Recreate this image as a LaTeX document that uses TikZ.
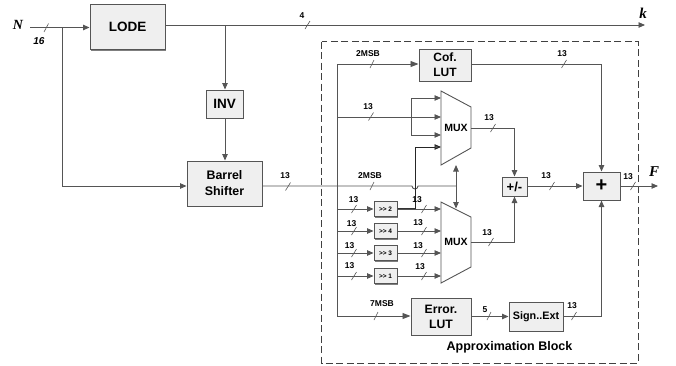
\documentclass[tikz,border=0pt]{standalone}
\usepackage{fontspec}
\setmainfont{Liberation Sans}
\newfontfamily\serifb{Liberation Serif}
\usetikzlibrary{arrows.meta,shadows}
\definecolor{ln}{HTML}{555555}
\definecolor{bx}{HTML}{EFEFEF}
\newcommand{\fs}[1]{\fontsize{#1}{#1}\selectfont\bfseries}
\newcommand{\tkat}[4]{\draw[tickmark] (#1+2.5,#2-4) -- (#1-2.5,#2+4);\node[lab] at (#3,#4) {13};}
\tikzset{
  x=1pt,y=-1pt,
  blockbox/.style={draw=ln,fill=bx,line width=1pt,align=center,inner sep=0pt,
    text=black,drop shadow={shadow xshift=1.2pt,shadow yshift=-1.2pt,fill=black,opacity=.5}},
  wire/.style={draw=ln,line width=0.9pt},
  arr/.style={wire,-{Triangle[length=6.5pt,width=5.5pt,fill=ln]}},
  bigarr/.style={wire,-{Triangle[length=8pt,width=6pt,fill=ln]}},
  tickmark/.style={draw=ln,line width=0.6pt},
  lab/.style={inner sep=0pt,font=\fs{8.5},text=black},
  dashbox/.style={draw=black!75,line width=0.7pt,dash pattern=on 7pt off 3.5pt},
  muxs/.style={draw=ln,fill=white,line width=0.9pt},
}
\begin{document}
\begin{tikzpicture}
\useasboundingbox (0,0) rectangle (676,365);
% dashed frame
\draw[dashbox] (321.5,41.5) rectangle (638,363);
\coordinate (in) at (30,27.5);
\coordinate (kend) at (645,25);
\coordinate (fend) at (658,186);
% blocks
\node[blockbox,minimum width=75pt,minimum height=45pt,font=\fs{13.5}] (lode) at (127.5,27) {LODE};
\node[blockbox,minimum width=37pt,minimum height=28pt,font=\fs{13.5}] (inv) at (224.5,104) {INV};
\node[blockbox,minimum width=75pt,minimum height=45pt,font=\fs{12.4}] (bs) at (224.5,183.5) {Barrel\\[3.5pt]Shifter};
\node[blockbox,minimum width=52pt,minimum height=32pt,font=\fs{12}] (cof) at (445,65) {Cof.\\[3pt]LUT};
\node[blockbox,minimum width=60pt,minimum height=37pt,font=\fs{12.2}] (err) at (441,316.5) {Error.\\[3pt]LUT};
\node[blockbox,minimum width=54pt,minimum height=29pt,font=\fs{10.8}] (sign) at (536,316.5) {Sign..Ext};
\node[blockbox,minimum width=25pt,minimum height=19pt,font=\fs{13}] (pm) at (514.5,186.5) {+/-};
\node[blockbox,minimum width=37pt,minimum height=28pt,font=\fs{20}] (add) at (601.5,186) {+};
\foreach \n/\t/\yy in {s2/2/209,s4/4/231,s3/3/253,s1/1/276}{
  \node[blockbox,minimum width=23pt,minimum height=15pt,font=\fs{6.5}] (\n) at (385.5,\yy) {>{}> \t};
}
% muxes
\draw[muxs] (441,91) coordinate (m1a) -- (471,107) -- (471,148) -- (441,165) coordinate (m1b) -- cycle;
\draw[muxs] (441,202) coordinate (m2a) -- (471,217) -- (471,267) -- (441,283) coordinate (m2b) -- cycle;
\node[lab,font=\fs{10.5}] (mux1) at (456,128) {MUX};
\node[lab,font=\fs{10.5}] (mux2) at (456,242) {MUX};
\coordinate (m1o) at (471,128);
\coordinate (m2o) at (471,242);
% top wires
\draw[arr] (in) -- (lode.west |- in);
\coordinate (j1) at (62,27.5);
\draw[arr] (j1) |- (bs.west |- 0,186);
\draw[arr] (lode.east |- kend) -- (kend);
\coordinate (j2) at (225,25);
\draw[arr] (j2) -- (inv.north -| j2);
\draw[arr] (inv.south -| j2) -- (bs.north -| j2);
% bus
\coordinate (bus) at (337,64);
\draw[wire] (bus) -- (337,316);
\draw[bigarr] (bus) -- (cof.west |- bus);
\draw[bigarr] (337,316) -- (err.west |- 0,316);
% barrel output with bridge
\coordinate (vj) at (456,186);
\draw[wire] (bs.east |- vj) -- (412,186) arc[start angle=180,end angle=0,radius=3] -- (vj);
\draw[arr] (vj) -- (456,165);
\draw[arr] (vj) -- (456,208.5);
% mux 1 inputs
\coordinate (b) at (411,117);
\draw[arr] (337,117) -- (441,117);
\draw[arr] (b) |- (441,98);
\draw[arr] (b) |- (441,135);
\draw[arr,draw=black!85] (415,209) |- (441,147);
\draw[wire,draw=black!80,line width=1.1pt] (s2.east) -- (415,209);
% shifters
\foreach \n/\yy in {s2/209,s4/231,s3/253,s1/276}{
  \draw[arr] (337,\yy) -- (\n.west);
  \draw[arr] (\n.east) -- (441,\yy);
}
% outputs
\draw[arr] (m1o) -| (pm.north);
\draw[arr] (m2o) -| (pm.south);
\draw[arr] (pm.east |- 0,186) -- (add.west);
\draw[arr] (cof.east |- 0,64) -| (add.north);
\draw[arr] (sign.east) -| (add.south);
\draw[arr] (err.east |- sign.east) -- (sign.west);
\draw[arr] (add.east) -- (fend);
% labels
\node[inner sep=0pt,font=\serifb\fontsize{14}{14}\selectfont\bfseries\itshape] (nN) at (18,24.5) {N};
\node[inner sep=0pt,font=\fontsize{10}{10}\selectfont\bfseries\itshape] (n16) at (39,41) {16};
\node[inner sep=0pt,font=\serifb\fontsize{15}{15}\selectfont\bfseries\itshape] (nk) at (643,13) {k};
\node[inner sep=0pt,font=\serifb\fontsize{15}{15}\selectfont\bfseries\itshape] (nF) at (654,172) {F};
\node[inner sep=0pt,font=\fs{12.5}] (appr) at (509.5,347) {Approximation Block};
% ticks and their labels
\draw[tickmark] (48.5,23.5) -- (44,32);
\draw[tickmark] (310,21) -- (305,29);
\node[lab] at (302,16) {4};
\tkat{288}{186.5}{285}{176}
\node[lab] at (370,176) {2MSB};
\draw[tickmark] (374,182) -- (370,190);
\node[lab] at (368,54) {2MSB};
\draw[tickmark] (374,60) -- (370,68);
\tkat{371}{116.5}{368}{107}
\tkat{493}{128}{489}{118}
\tkat{491}{242}{487}{233}
\tkat{552}{186}{546}{176}
\tkat{564}{64}{562}{54}
\tkat{633}{186}{628}{177}
\tkat{574}{316}{572}{306}
\tkat{354}{209}{353.5}{200}
\tkat{354}{231}{351.5}{224}
\tkat{354}{253}{349.5}{246}
\tkat{354}{276}{349.5}{266}
\tkat{424}{209}{417}{200}
\tkat{424}{231}{418}{223}
\tkat{424}{253}{418}{246}
\tkat{424}{276}{420}{267}
\draw[tickmark] (378,312) -- (374,320);
\node[lab] at (382,304) {7MSB};
\draw[tickmark] (491,312) -- (487,320);
\node[lab] at (485,310) {5};
\end{tikzpicture}
\end{document}
